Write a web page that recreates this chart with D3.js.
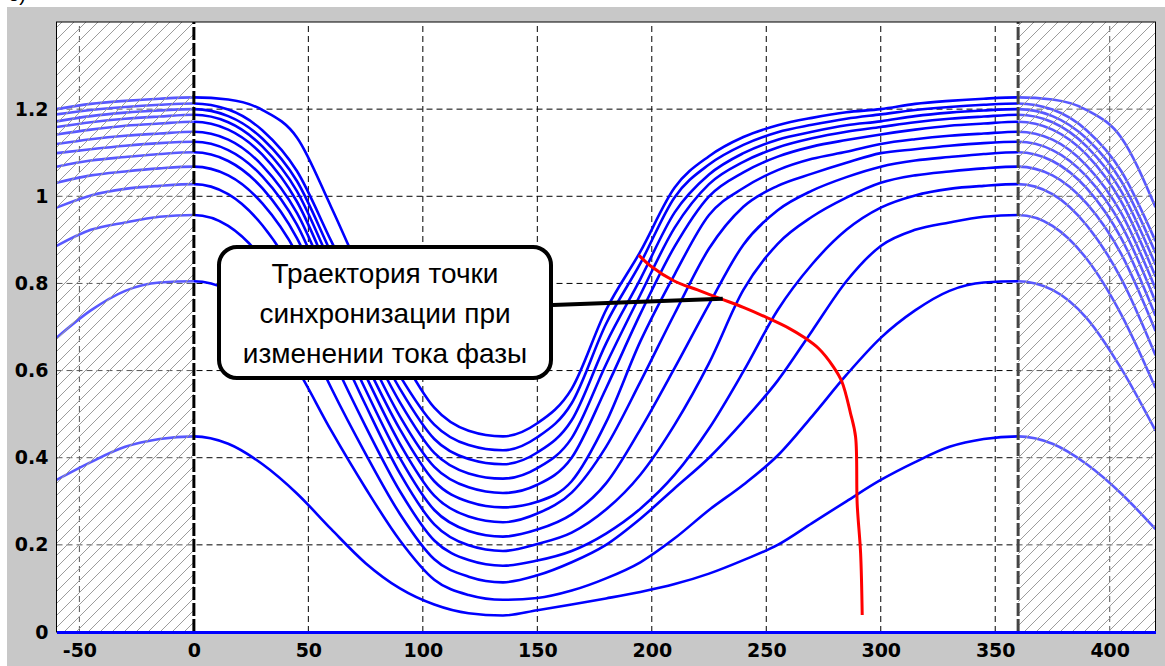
<!DOCTYPE html>
<html>
<head>
<meta charset="utf-8">
<style>
  body { margin: 0; background: #fff; }
  svg { display: block; }
  .axis text { font-family: "DejaVu Sans", sans-serif; font-weight: bold; font-size: 19px; fill: #000; }
  .callout text { font-family: "Liberation Sans", Arial, sans-serif; font-size: 28px; fill: #000; }
</style>
</head>
<body>
<script src="https://d3js.org/d3.v7.min.js"></script>
<script>

// rotor angle grid (deg), one period 0..360
var phaseX = [0,15,30,45,60,75,90,105,120,135,150,165,180,195,210,225,240,255,270,285,300,315,330,345,360];

// flux curves, top curve first
var curve1  = [1.227,1.222,1.198,1.135,0.975,0.800,0.640,0.515,0.462,0.449,0.479,0.558,0.739,0.873,1.020,1.092,1.136,1.163,1.180,1.193,1.200,1.212,1.219,1.224,1.227];
var curve2  = [1.213,1.199,1.151,1.058,0.897,0.736,0.588,0.476,0.429,0.417,0.447,0.525,0.707,0.846,0.998,1.073,1.118,1.147,1.164,1.178,1.188,1.198,1.205,1.210,1.213];
var curve3  = [1.200,1.184,1.132,1.035,0.870,0.707,0.558,0.443,0.397,0.385,0.412,0.486,0.662,0.810,0.963,1.050,1.099,1.130,1.148,1.163,1.172,1.184,1.192,1.197,1.200];
var curve4  = [1.187,1.170,1.114,1.012,0.843,0.678,0.527,0.411,0.364,0.352,0.376,0.445,0.614,0.774,0.928,1.028,1.079,1.112,1.133,1.148,1.159,1.170,1.178,1.183,1.187];
var curve5  = [1.171,1.153,1.095,0.988,0.816,0.649,0.495,0.379,0.332,0.319,0.338,0.400,0.559,0.730,0.885,1.000,1.055,1.091,1.114,1.129,1.142,1.153,1.162,1.167,1.171];
var curve6  = [1.148,1.130,1.070,0.962,0.788,0.619,0.465,0.346,0.299,0.286,0.299,0.346,0.481,0.667,0.821,0.957,1.019,1.060,1.086,1.102,1.120,1.131,1.139,1.144,1.148];
var curve7  = [1.125,1.106,1.045,0.935,0.758,0.589,0.432,0.313,0.265,0.252,0.272,0.320,0.425,0.574,0.731,0.880,0.976,1.024,1.052,1.077,1.099,1.108,1.116,1.122,1.125];
var curve8  = [1.101,1.081,1.018,0.904,0.726,0.556,0.399,0.280,0.232,0.219,0.235,0.270,0.341,0.465,0.606,0.752,0.889,0.968,1.013,1.044,1.068,1.082,1.090,1.097,1.101];
var curve9  = [1.068,1.048,0.983,0.868,0.691,0.521,0.364,0.247,0.199,0.186,0.202,0.228,0.281,0.361,0.476,0.617,0.785,0.891,0.953,0.997,1.031,1.048,1.057,1.064,1.068];
var curve10 = [1.028,1.005,0.933,0.811,0.635,0.472,0.323,0.210,0.165,0.152,0.164,0.186,0.226,0.283,0.361,0.467,0.598,0.739,0.844,0.923,0.974,1.002,1.017,1.024,1.028];
var curve11 = [0.957,0.932,0.856,0.729,0.560,0.409,0.271,0.167,0.127,0.114,0.130,0.160,0.200,0.260,0.330,0.400,0.484,0.577,0.691,0.805,0.886,0.923,0.940,0.953,0.957];
var curve12 = [0.805,0.785,0.720,0.605,0.462,0.330,0.210,0.120,0.085,0.074,0.078,0.095,0.123,0.160,0.215,0.280,0.338,0.405,0.495,0.590,0.675,0.738,0.783,0.802,0.805];
var curve13 = [0.449,0.432,0.385,0.318,0.236,0.158,0.100,0.063,0.043,0.038,0.050,0.063,0.077,0.092,0.110,0.134,0.165,0.200,0.250,0.300,0.349,0.390,0.425,0.443,0.449];

var curves = [curve1, curve2, curve3, curve4, curve5, curve6, curve7, curve8, curve9, curve10, curve11, curve12, curve13];

// red trajectory of the sync point
var trajX = [194.3,199.5,210,220,230,240,250.5,260,266.3,273,279.4,283,286.8,289,289.7,291.2,291.9];
var trajY = [0.865,0.840,0.805,0.785,0.765,0.745,0.721,0.697,0.677,0.650,0.608,0.575,0.502,0.448,0.295,0.181,0.039];

var xTicks = [-50,0,50,100,150,200,250,300,350,400];
var yTicks = [0,0.2,0.4,0.6,0.8,1,1.2];

var calloutLines = ["Траектория точки", "синхронизации при", "изменении тока фазы"];

var width = 1165,
    height = 666;

var x = d3.scaleLinear().domain([-60, 420]).range([56.5, 1155.5]);
var y = d3.scaleLinear().domain([0, 1.4]).range([632, 22]);

var svg = d3.select("body").append("svg")
  .attr("width", width)
  .attr("height", height);

// gray figure panel
svg.append("rect")
  .attr("x", 7).attr("y", 7)
  .attr("width", width - 7).attr("height", height - 7)
  .attr("fill", "#c8c8c8");

// panel letter, cut by the top edge as in the source picture
svg.append("text")
  .attr("x", 26).attr("y", 1)
  .attr("text-anchor", "end")
  .style("font-family", "Liberation Sans, sans-serif")
  .style("font-size", "20px")
  .text("б)");

var defs = svg.append("defs");
defs.append("clipPath").attr("id", "plot")
  .append("rect")
    .attr("x", x(-60)).attr("y", y(1.4))
    .attr("width", x(420) - x(-60)).attr("height", y(0) - y(1.4));

var pat = defs.append("pattern")
  .attr("id", "hatch")
  .attr("patternUnits", "userSpaceOnUse")
  .attr("width", 12).attr("height", 12);
pat.append("path")
  .attr("d", "M-3,3 L3,-3 M0,12 L12,0 M9,15 L15,9")
  .attr("stroke", "#9c9c9c")
  .attr("stroke-width", 1);

// plot background
svg.append("rect")
  .attr("x", x(-60)).attr("y", y(1.4))
  .attr("width", x(420) - x(-60)).attr("height", y(0) - y(1.4))
  .attr("fill", "#fff");

var plot = svg.append("g").attr("clip-path", "url(#plot)");

// dashed grid
plot.append("g")
  .selectAll("line").data(xTicks.filter(function(d) { return d != 0; }))
  .enter().append("line")
    .attr("x1", function(d) { return x(d); })
    .attr("x2", function(d) { return x(d); })
    .attr("y1", y(0)).attr("y2", y(1.4))
    .attr("stroke", "#000")
    .attr("stroke-width", 1)
    .attr("stroke-dasharray", "6,4");

plot.append("g")
  .selectAll("line").data(yTicks.filter(function(d) { return d != 0; }))
  .enter().append("line")
    .attr("x1", x(-60)).attr("x2", x(420))
    .attr("y1", function(d) { return y(d); })
    .attr("y2", function(d) { return y(d); })
    .attr("stroke", "#000")
    .attr("stroke-width", 1)
    .attr("stroke-dasharray", "6,4");

// one period plus its continuation into the hatched zones
function periodic(values) {
  var pts = [];
  phaseX.forEach(function(px, i) { if (px >= 300 && px < 360) pts.push([px - 360, values[i]]); });
  phaseX.forEach(function(px, i) { pts.push([px, values[i]]); });
  phaseX.forEach(function(px, i) { if (px > 0 && px <= 60) pts.push([px + 360, values[i]]); });
  return pts;
}

var line = d3.line()
  .x(function(d) { return x(d[0]); })
  .y(function(d) { return y(d[1]); })
  .curve(d3.curveMonotoneX);

plot.append("g")
  .selectAll("path").data(curves)
  .enter().append("path")
    .attr("d", function(d) { return line(periodic(d)); })
    .attr("fill", "none")
    .attr("stroke", "#0000ff")
    .attr("stroke-width", 2.6);

// hatched zones outside one period
[[-60, 0], [360, 420]].forEach(function(r) {
  plot.append("rect")
    .attr("x", x(r[0])).attr("y", y(1.4))
    .attr("width", x(r[1]) - x(r[0])).attr("height", y(0) - y(1.4))
    .attr("fill", "rgba(255,255,255,0.35)");
  plot.append("rect")
    .attr("x", x(r[0])).attr("y", y(1.4))
    .attr("width", x(r[1]) - x(r[0])).attr("height", y(0) - y(1.4))
    .attr("fill", "url(#hatch)");
});

// period borders
plot.append("line")
  .attr("x1", x(0)).attr("x2", x(0))
  .attr("y1", y(0)).attr("y2", y(1.4))
  .attr("stroke", "#000").attr("stroke-width", 3)
  .attr("stroke-dasharray", "13,3");
plot.append("line")
  .attr("x1", x(360)).attr("x2", x(360))
  .attr("y1", y(0)).attr("y2", y(1.4))
  .attr("stroke", "#444").attr("stroke-width", 3)
  .attr("stroke-dasharray", "13,3");

// trajectory
var traj = trajX.map(function(d, i) { return [d, trajY[i]]; });
plot.append("path")
  .attr("d", d3.line()
    .x(function(d) { return x(d[0]); })
    .y(function(d) { return y(d[1]); })
    .curve(d3.curveCatmullRom)(traj))
  .attr("fill", "none")
  .attr("stroke", "#ff0000")
  .attr("stroke-width", 3);

// frame
svg.append("rect")
  .attr("x", x(-60)).attr("y", y(1.4))
  .attr("width", x(420) - x(-60)).attr("height", y(0) - y(1.4))
  .attr("fill", "none")
  .attr("stroke", "#000")
  .attr("stroke-width", 1);

// axes
var xAxis = svg.append("g")
  .attr("class", "axis")
  .attr("transform", "translate(0," + y(0) + ")")
  .call(d3.axisBottom(x).tickValues(xTicks).tickSize(0).tickPadding(12)
    .tickFormat(function(d) { return String(d); }));
xAxis.select(".domain").attr("stroke", "#0000ff").attr("stroke-width", 3);

var yAxis = svg.append("g")
  .attr("class", "axis")
  .attr("transform", "translate(" + x(-60) + ",0)")
  .call(d3.axisLeft(y).tickValues(yTicks).tickSize(0).tickPadding(8)
    .tickFormat(d3.format("~g")));
yAxis.select(".domain").remove();

// callout
var callout = svg.append("g").attr("class", "callout");
callout.append("line")
  .attr("x1", 553).attr("y1", 305)
  .attr("x2", x(231)).attr("y2", y(0.765))
  .attr("stroke", "#000").attr("stroke-width", 4);
callout.append("rect")
  .attr("x", 219).attr("y", 247)
  .attr("width", 332).attr("height", 131)
  .attr("rx", 18)
  .attr("fill", "#fff")
  .attr("stroke", "#000")
  .attr("stroke-width", 4);
callout.selectAll("text").data(calloutLines)
  .enter().append("text")
    .attr("x", 385)
    .attr("y", function(d, i) { return 283 + i * 40; })
    .attr("text-anchor", "middle")
    .text(function(d) { return d; });

</script>
</body>
</html>
